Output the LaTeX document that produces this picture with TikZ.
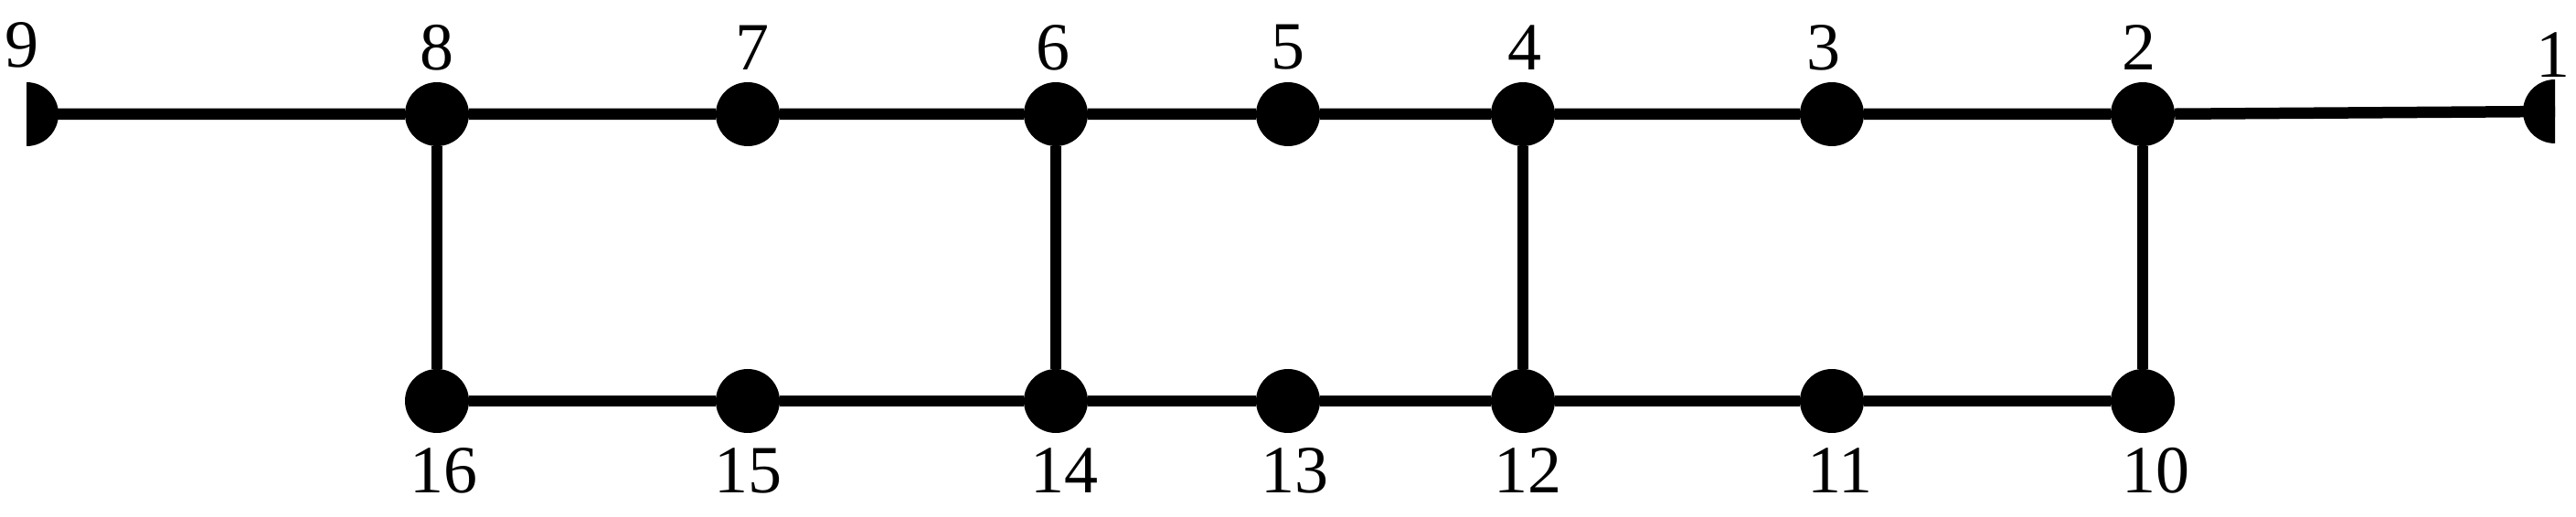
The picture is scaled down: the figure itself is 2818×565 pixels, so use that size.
\documentclass[tikz,border=0pt]{standalone}
\usepackage{fontspec}
\setmainfont{Liberation Serif}
\begin{document}
\begin{tikzpicture}[x=1pt,y=1pt,
  dot/.style={circle,fill=black,inner sep=0pt,minimum size=70pt},
  lab/.style={font=\fontsize{74}{74}\selectfont,inner sep=0pt},
  edge/.style={line width=12.5pt}]
\useasboundingbox (0,0) rectangle (2818,565);
\foreach \n/\x in {8/478,7/818,6/1155,5/1409,4/1666,3/2004,2/2344}
  \node[dot] (n\n) at (\x,440) {};
\foreach \n/\x in {16/478,15/818,14/1155,13/1409,12/1666,11/2004,10/2344}
  \node[dot] (n\n) at (\x,126) {};
\coordinate (n9) at (29,440);
\coordinate (n1) at (2795,443);
\fill (n9) ++(0,-35) arc (-90:90:35) -- cycle;
\fill (n1) ++(0,-35) arc (-90:-270:35) -- cycle;
\draw[edge] (n9) -- (n8) -- (n7) -- (n6) -- (n5) -- (n4) -- (n3) -- (n2) -- (n1);
\draw[edge] (n16) -- (n15) -- (n14) -- (n13) -- (n12) -- (n11) -- (n10);
\draw[edge] (n8) -- (n16);
\draw[edge] (n6) -- (n14);
\draw[edge] (n4) -- (n12);
\draw[edge] (n2) -- (n10);
\foreach \n/\x in {8/478,7/823,6/1152,5/1409,4/1668,3/1995,2/2340}
  \node[lab] (l\n) at (\x,513) {\n};
\node[lab] (l9) at (24,516) {9};
\node[lab] (l1) at (2793,505) {1};
\foreach \n/\x in {16/485,15/818,14/1164,13/1416,12/1671,11/2013,10/2358}
  \node[lab] (l\n) at (\x,50) {\n};
\end{tikzpicture}
\end{document}
